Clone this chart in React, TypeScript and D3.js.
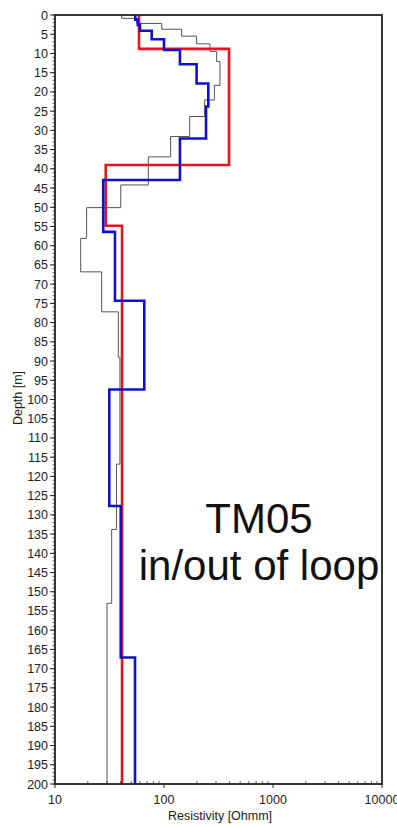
import React from "react";
import * as d3 from "d3";

// Layered models: top depth of each layer [m] and its resistivity [Ohmm]
const redTops = [0, 8.8, 39.0, 54.8];
const redValues = [59, 395, 29.2, 41.2];

const blueTops = [0, 1.2, 2.6, 4.1, 6.3, 9.1, 12.8, 17.8, 23.8, 32.1, 42.9, 56.4, 74.3, 97.4, 127.7, 167.1];
const blueValues = [54.5, 57.5, 60.2, 77.1, 100, 140, 199, 255, 243, 140, 27.7, 35.5, 65.9, 31.5, 40.1, 54.2];

const blackTops = [0, 0.87, 2.2, 3.7, 5.5, 7.5, 9.5, 12.1, 18.3, 22.1, 26.4, 31.6, 36.9, 44.2, 50.1, 58.1, 66.8, 77.2, 89, 116.8, 133.8, 153];
const blackValues = [40.9, 56.2, 95.3, 145, 199, 264, 304, 326, 290, 236, 172, 115, 71.8, 40.1, 19.5, 17.2, 26.8, 38.1, 39.4, 36.6, 33.1, 30.0];

const depthTicks = d3.range(0, 201, 5);
const depthMinor = d3.range(0, 201, 1);
const resTicks = [10, 100, 1000, 10000];
const resMinor = [2, 3, 4, 5, 6, 7, 8, 9].flatMap((m) => [10, 100, 1000].map((d) => m * d));

const maxDepth = 200;

export default function App() {
  const W = 397;
  const H = 827;
  const x = d3.scaleLog().domain([10, 10000]).range([55, 382]);
  const y = d3.scaleLinear().domain([0, maxDepth]).range([15, 784]);

  const stepPath = (tops: number[], vals: number[]) => {
    const pts: [number, number][] = [];
    vals.forEach((v, i) => {
      const top = tops[i];
      const bot = i + 1 < tops.length ? tops[i + 1] : maxDepth;
      pts.push([v, top]);
      pts.push([v, bot]);
    });
    return d3
      .line<[number, number]>()
      .x((d) => x(d[0]))
      .y((d) => y(d[1]))(pts) as string;
  };

  const font = "'Liberation Sans', Arial, sans-serif";
  const [x0, x1] = x.range();
  const [y0, y1] = y.range();

  return (
    <svg
      width={W}
      height={H}
      style={{ position: "absolute", left: 0, top: 0, background: "#fff" }}
      fontFamily={font}
    >
      {/* data */}
      <path d={stepPath(blackTops, blackValues)} fill="none" stroke="#555" strokeWidth={1} />
      <path d={stepPath(redTops, redValues)} fill="none" stroke="#e8141c" strokeWidth={2.6} />
      <path d={stepPath(blueTops, blueValues)} fill="none" stroke="#1010cc" strokeWidth={2.6} />

      {/* frame */}
      <rect x={x0} y={y0} width={x1 - x0} height={y1 - y0} fill="none" stroke="#222" strokeWidth={1.8} />

      {/* y axis ticks */}
      {depthMinor.map((d) => (
        <line key={"ym" + d} x1={x0 - 2.5} x2={x0} y1={y(d)} y2={y(d)} stroke="#333" strokeWidth={0.8} />
      ))}
      {depthTicks.map((d) => (
        <g key={"yt" + d}>
          <line x1={x0 - 5} x2={x0} y1={y(d)} y2={y(d)} stroke="#222" strokeWidth={1} />
          <text x={x0 - 7} y={y(d)} dy="0.36em" textAnchor="end" fontSize={12.5} fill="#222">
            {d}
          </text>
        </g>
      ))}

      {/* x axis ticks */}
      {resMinor.map((r) => (
        <line key={"xm" + r} x1={x(r)} x2={x(r)} y1={y1} y2={y1 - 3} stroke="#333" strokeWidth={0.8} />
      ))}
      {resTicks.map((r) => (
        <g key={"xt" + r}>
          <line x1={x(r)} x2={x(r)} y1={y1} y2={y1 + 4} stroke="#222" strokeWidth={1} />
          <text x={x(r)} y={y1 + 20} textAnchor="middle" fontSize={12.5} fill="#222">
            {r}
          </text>
        </g>
      ))}

      {/* axis titles */}
      <text x={220} y={820} textAnchor="middle" fontSize={12.5} fill="#222">
        Resistivity [Ohmm]
      </text>
      <text
        transform={`translate(22,398) rotate(-90)`}
        textAnchor="middle"
        fontSize={12.5}
        fill="#222"
      >
        Depth [m]
      </text>

      {/* annotation */}
      <text x={259} y={533} textAnchor="middle" fontSize={42} fill="#111">
        TM05
      </text>
      <text x={259} y={580} textAnchor="middle" fontSize={42} fill="#111">
        in/out of loop
      </text>
    </svg>
  );
}
